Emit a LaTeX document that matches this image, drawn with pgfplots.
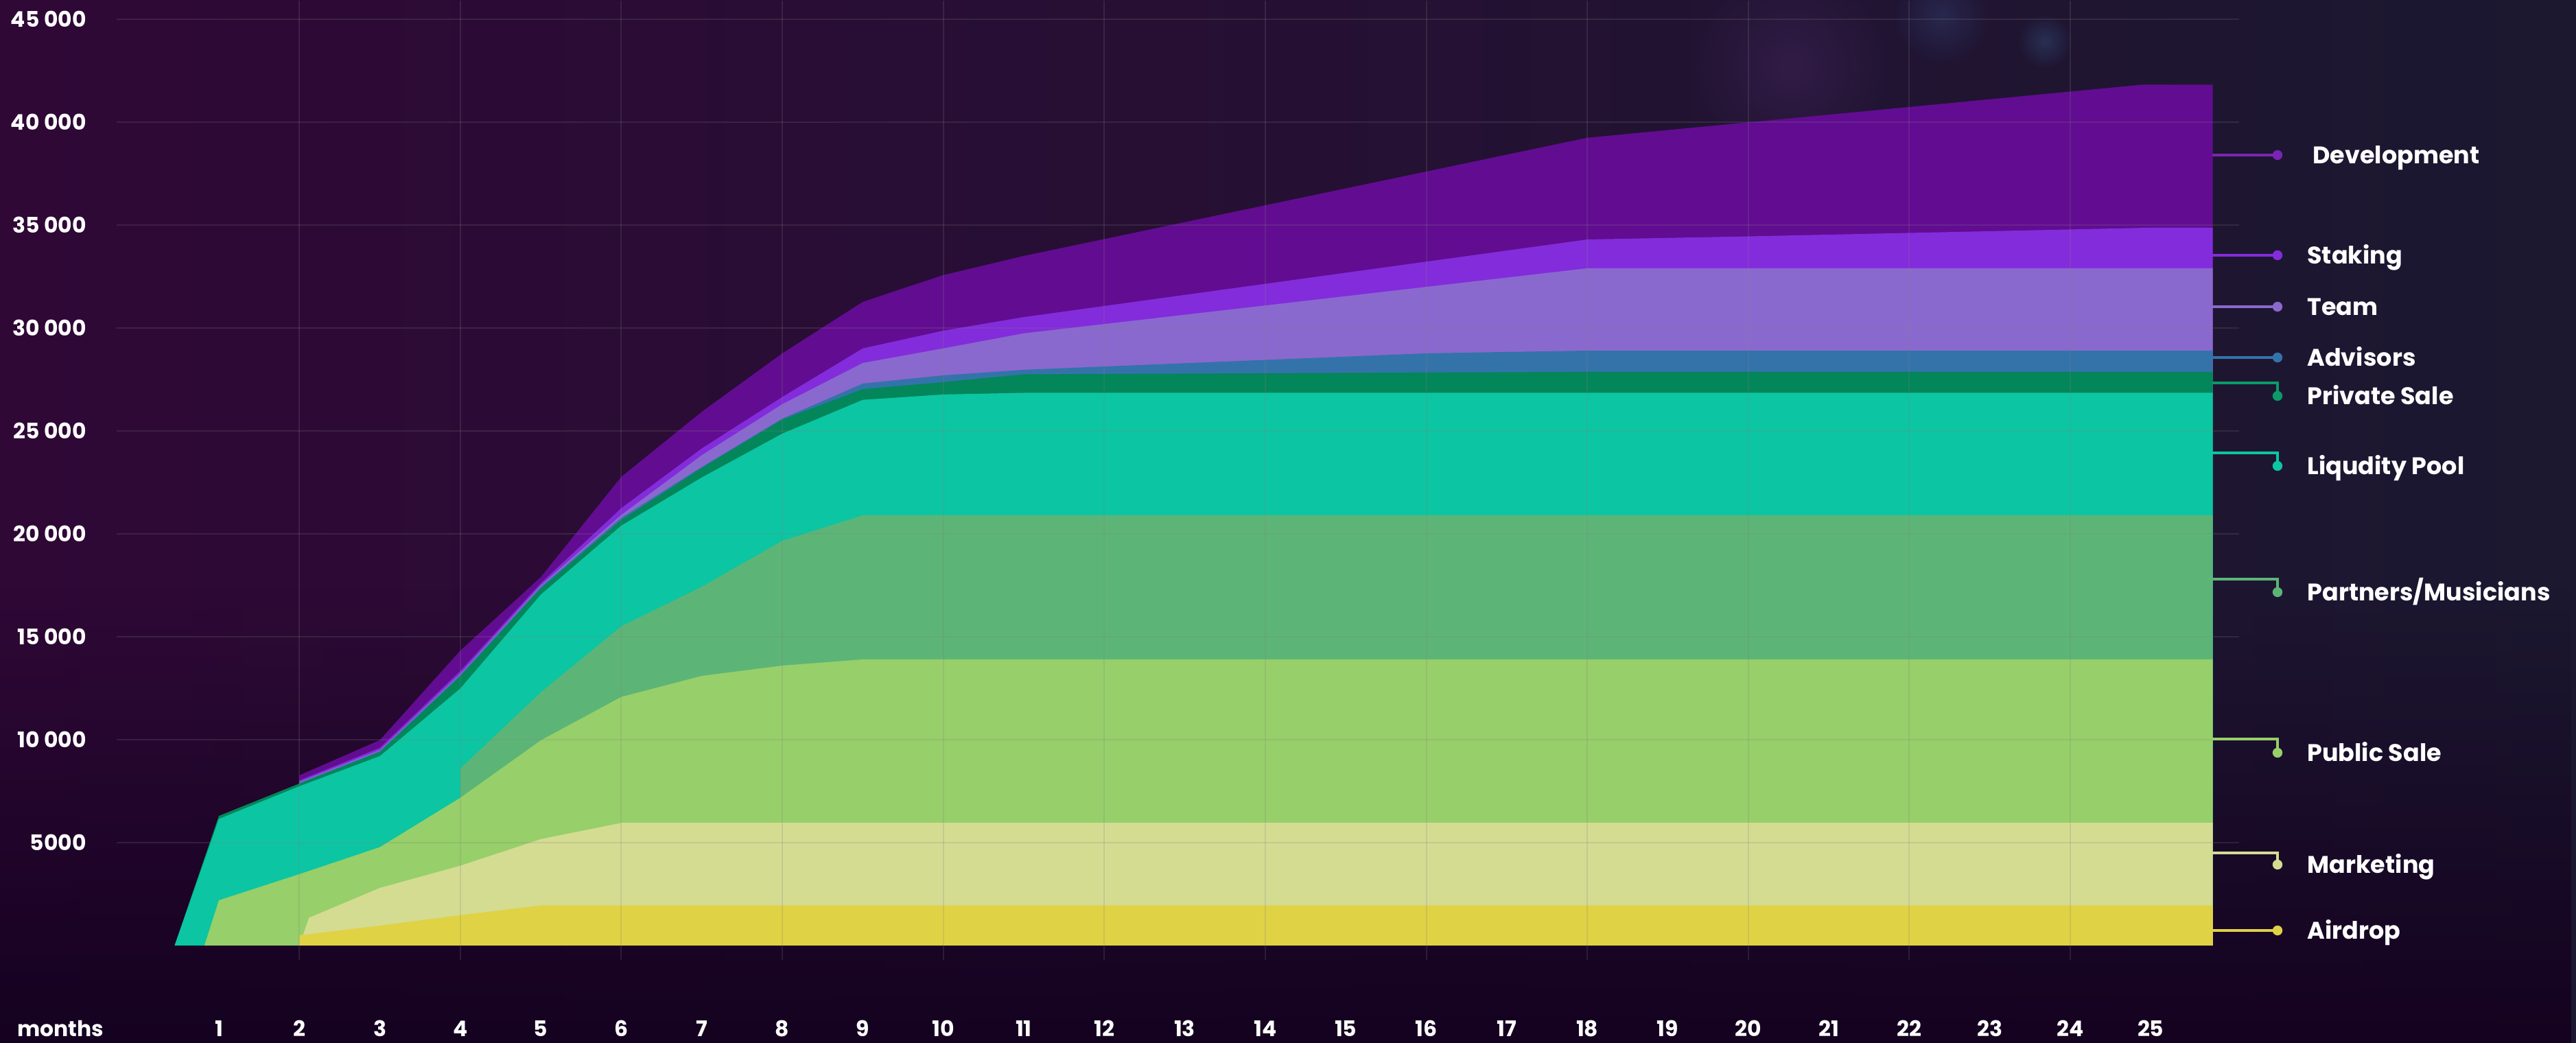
\documentclass[border=0pt]{standalone}
\usepackage{fontspec}
\setmainfont{Poppins}
\usepackage{pgfplots}
\pgfplotsset{compat=1.18}
\usetikzlibrary{fadings}

\definecolor{bgL}{HTML}{2F0836}
\definecolor{bgR}{HTML}{1B1830}
\definecolor{bgB}{HTML}{150220}
\definecolor{glowA}{HTML}{4A2A66}
\definecolor{glowB}{HTML}{34457A}
\definecolor{glowC}{HTML}{36588A}
\definecolor{cDev}{HTML}{620C92}
\definecolor{cStk}{HTML}{832CDB}
\definecolor{cTeam}{HTML}{8A69CE}
\definecolor{cAdv}{HTML}{3473AA}
\definecolor{cPriv}{HTML}{03865A}
\definecolor{cLiq}{HTML}{0CC5A2}
\definecolor{cPart}{HTML}{5CB577}
\definecolor{cPub}{HTML}{97CF6A}
\definecolor{cMkt}{HTML}{D4DC92}
\definecolor{cAir}{HTML}{E0D245}
\definecolor{lDev}{HTML}{7A24B4}
\definecolor{lPriv}{HTML}{0A9B68}

\tikzfading[name=glow, inner color=transparent!60, outer color=transparent!100]

\begin{document}
\begin{tikzpicture}
\useasboundingbox (0pt,0pt) rectangle (1877pt,760pt);
\begin{scope}
\clip (0pt,0pt) rectangle (1877pt,760pt);
% background
\shade[left color=bgL, right color=bgR] (0pt,0pt) rectangle (1877pt,760pt);
\fill[bgB, path fading=north] (0pt,0pt) rectangle (1877pt,330pt);
\fill[glowA, path fading=glow] (1305pt,712pt) circle (75pt);
\fill[glowB, path fading=glow] (1415pt,748pt) circle (36pt);
\fill[glowC, path fading=glow] (1490pt,730pt) circle (20pt);
\end{scope}

\begin{axis}[
  at={(85pt,60.5pt)}, anchor=south west,
  scale only axis, width=1546.6pt, height=699pt,
  xmin=-0.27, xmax=26.1, ymin=-700, ymax=45900,
  axis line style={draw=none},
  tick style={draw=none},
  xtick={1,...,25},
  ytick={5000,10000,...,45000},
  yticklabels={5000,10 000,15 000,20 000,25 000,30 000,35 000,40 000,45 000},
  /pgf/number format/assume math mode=true,
  ymajorgrids=true,
  extra x ticks={2,4,...,24},
  extra x tick labels={},
  extra x tick style={grid=major},
  major grid style={line width=1pt, color=gray, opacity=0.2},
  axis on top,
  ticklabel style={font=\bfseries\fontsize{15.7}{18}\selectfont, text=white, inner sep=0pt},
  xticklabel style={anchor=center, yshift=-50pt},
  yticklabel style={anchor=east, xshift=-22pt},
  clip=false,
]
% Development (cumulative top)
\addplot[fill=cDev, draw=none] coordinates {(2,0) (2,8270) (3,9980) (4,14330) (5,17900) (6,22770) (7,25930) (8,28770) (9,31270) (10,32570) (11,33500) (18,39240) (24.9,41820) (25.77,41820) (25.77,0)} -- cycle;
% Staking
\addplot[fill=cStk, draw=none] coordinates {(2,0) (2,8020) (3,9600) (4,13340) (5,17600) (6,21250) (7,24150) (8,26650) (9,29010) (10,29870) (11,30530) (18,34300) (20,34450) (25,34870) (25.77,34870) (25.77,0)} -- cycle;
% Team
\addplot[fill=cTeam, draw=none] coordinates {(2,0) (2,7950) (3,9500) (4,13210) (5,17500) (6,20920) (7,23820) (8,26300) (9,28300) (10,29010) (11,29740) (18,32900) (25.77,32900) (25.77,0)} -- cycle;
% Advisors
\addplot[fill=cAdv, draw=none] coordinates {(2,0) (2,7900) (3,9450) (4,13150) (5,17420) (6,20780) (7,23250) (8,25600) (9,27300) (10,27700) (11,27970) (16,28770) (18,28900) (25.77,28900) (25.77,0)} -- cycle;
% Private Sale
\addplot[fill=cPriv, draw=none] coordinates {(0.45,0) (1,6300) (2,7870) (3,9400) (4,13080) (5,17350) (6,20670) (7,23200) (8,25550) (9,27030) (10,27370) (11,27750) (18,27870) (25.77,27870) (25.77,0)} -- cycle;
% Liquidity Pool
\addplot[fill=cLiq, draw=none] coordinates {(0.45,0) (1,6150) (2,7740) (3,9200) (4,12490) (5,17050) (6,20400) (7,22740) (8,24870) (9,26510) (10,26770) (11,26850) (25.77,26850) (25.77,0)} -- cycle;
% Partners/Musicians
\addplot[fill=cPart, draw=none] coordinates {(4,0) (4,8600) (5,12300) (6,15510) (7,17430) (8,19660) (9,20900) (25.77,20900) (25.77,0)} -- cycle;
% Public Sale
\addplot[fill=cPub, draw=none] coordinates {(0.82,0) (1,2200) (2,3470) (3,4780) (4,7180) (5,9970) (6,12080) (7,13100) (8,13600) (9,13900) (25.77,13900) (25.77,0)} -- cycle;
% Marketing
\addplot[fill=cMkt, draw=none] coordinates {(2,0) (2.12,1350) (3,2800) (4,3880) (5,5170) (6,5960) (25.77,5960) (25.77,0)} -- cycle;
% Airdrop
\addplot[fill=cAir, draw=none] coordinates {(2,0) (2,500) (3,970) (4,1480) (5,1950) (25.77,1950) (25.77,0)} -- cycle;
\end{axis}

% x axis caption
\node[anchor=center, inner sep=0pt, text=white, font=\bfseries\fontsize{15.7}{18}\selectfont] at (44pt,10.5pt) {months};

% legend connectors
\begin{scope}[line width=2pt]
\draw[lDev] (1612pt,647pt) -- (1659.5pt,647pt); \fill[lDev] (1659.5pt,647pt) circle (3.6pt);
\draw[cStk] (1612pt,574pt) -- (1659.5pt,574pt); \fill[cStk] (1659.5pt,574pt) circle (3.6pt);
\draw[cTeam] (1612pt,536.5pt) -- (1659.5pt,536.5pt); \fill[cTeam] (1659.5pt,536.5pt) circle (3.6pt);
\draw[cAdv] (1612pt,499.5pt) -- (1659.5pt,499.5pt); \fill[cAdv] (1659.5pt,499.5pt) circle (3.6pt);
\draw[lPriv] (1612pt,481pt) -| (1659.5pt,471.5pt); \fill[lPriv] (1659.5pt,471.5pt) circle (3.6pt);
\draw[cLiq] (1612pt,430pt) -| (1659.5pt,420.5pt); \fill[cLiq] (1659.5pt,420.5pt) circle (3.6pt);
\draw[cPart] (1612pt,338pt) -| (1659.5pt,328.5pt); \fill[cPart] (1659.5pt,328.5pt) circle (3.6pt);
\draw[cPub] (1612pt,221.5pt) -| (1659.5pt,211.5pt); \fill[cPub] (1659.5pt,211.5pt) circle (3.6pt);
\draw[cMkt] (1612pt,138.5pt) -| (1659.5pt,130pt); \fill[cMkt] (1659.5pt,130pt) circle (3.6pt);
\draw[cAir] (1612pt,82pt) -- (1659.5pt,82pt); \fill[cAir] (1659.5pt,82pt) circle (3.6pt);
\end{scope}

% legend labels
\begin{scope}[every node/.style={anchor=base west, inner sep=0pt, text=white, font=\bfseries\fontsize{17.5}{20}\selectfont}]
\node at (1685pt,{647pt-6.1pt}) {Development};
\node at (1681pt,{574pt-6.1pt}) {Staking};
\node at (1681pt,{536.5pt-6.1pt}) {Team};
\node at (1681pt,{499.5pt-6.1pt}) {Advisors};
\node at (1681pt,{471.5pt-6.1pt}) {Private Sale};
\node at (1681pt,{420.5pt-6.1pt}) {Liqudity Pool};
\node at (1681pt,{328.5pt-6.1pt}) {Partners/Musicians};
\node at (1681pt,{211.5pt-6.1pt}) {Public Sale};
\node at (1681pt,{130pt-6.1pt}) {Marketing};
\node at (1681pt,{82pt-6.1pt}) {Airdrop};
\end{scope}
\end{tikzpicture}
\end{document}
